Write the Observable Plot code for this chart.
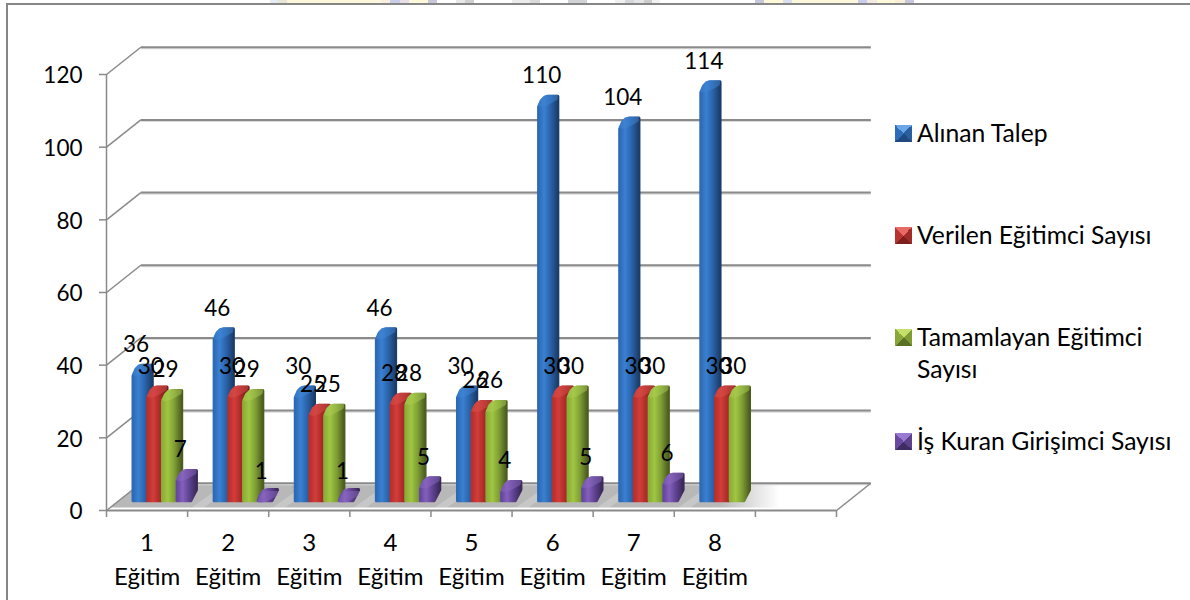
<!DOCTYPE html>
<html>
<head>
<meta charset="utf-8">
<script src="https://cdn.jsdelivr.net/npm/d3@7"></script>
<script src="https://cdn.jsdelivr.net/npm/@observablehq/plot@0.6"></script>
<style>
html,body{margin:0;padding:0;background:#fff;}
#page{position:relative;width:1190px;height:600px;overflow:hidden;background:#fff;color:#000;font-family:Lato,"Open Sans",sans-serif;}
#frame{position:absolute;left:6px;top:3px;width:1190px;height:610px;border-left:2px solid #868686;border-top:2px solid #868686;box-sizing:border-box;}
#strip{position:absolute;left:0;top:0;width:1190px;height:3px;}
#chart{position:absolute;left:0;top:0;}
.lg{position:absolute;left:895px;display:flex;align-items:flex-start;font-size:24.7px;line-height:32px;width:295px;}
.sw{width:17px;height:17px;margin:8px 5px 0 0;flex:none;}
</style>
</head>
<body>
<div id="page"><div id="strip"></div><div id="frame"></div><div id="chart"></div></div>
<script>
const categories = ["1\nEğitim","2\nEğitim","3\nEğitim","4\nEğitim","5\nEğitim","6\nEğitim","7\nEğitim","8\nEğitim"];
const seriesNames = ["Alınan Talep","Verilen Eğitimci Sayısı","Tamamlayan Eğitimci Sayısı","İş Kuran Girişimci Sayısı"];
const alinanTalep = [36,46,30,46,30,110,104,114];
const verilenEgitimci = [30,30,25,28,26,30,30,30];
const tamamlayanEgitimci = [29,29,25,28,26,30,30,30];
const isKuranGirisimci = [7,1,1,5,4,5,6,null];
const yTicks = [0,20,40,60,80,100,120];
const xSlots = 9;
const gradients = [
  ["#2d6ab5","#3a80d2","#2a63aa","#1b3d69"],
  ["#b92f2c","#d23d3a","#aa2b28","#6c1b1a"],
  ["#8cae38","#a0c642","#7f9e34","#4b5d1f"],
  ["#6546a0","#8460bc","#5f4292","#3a2959"]
];
const capColors = ["#3f86d6","#d9504c","#aacb52","#8a68c0"];
const swatches = [
  ["#6aa6e8","#2a5f9e","#1f4a80","#2f6cb8"],
  ["#e86a66","#a02c2a","#7c1f1d","#b93330"],
  ["#c4e06a","#7f9c34","#5a7024","#8aa83a"],
  ["#9a7ad0","#5c418c","#3f2c60","#6a4aa0"]
];
const labelOffsetPx = -35;
// oblique projection in data units
const depthX = 0.423, depthY = 7.5;        // back wall offset
const barStart = 0.31, barStep = 0.1815, barW = 0.185, barDX = 0.0864;
const barBase = 2.3, barLift = 1.4, barCap = 3;
const insetX = 0.017, insetY = 0.4;        // stroke rounds the corners back out

const allSeries = [alinanTalep, verilenEgitimci, tamamlayanEgitimci, isKuranGirisimci];
const bars = [];
allSeries.forEach((vals,s)=>vals.forEach((v,i)=>{ if(v!=null) bars.push({s,i,v,x0:i+barStart+s*barStep}); }));

function silhouette(b){
  const base=barBase+insetY, t=Math.max(b.v+barLift-insetY,base+.05), xl=b.x0+insetX, w=barW-insetX, d=barDX-insetX, c=barCap;
  return [
    [xl,base],[xl,t],
    [xl+d*.5,t+c*.62],[xl+d*1.05,t+c*.92],[xl+d*1.6,t+c],
    [xl+w+d,t+c],
    [xl+w+d,base+c],[xl+w,base]
  ].map(([x,y])=>({x,y,key:b.s+"-"+b.i,s:b.s}));
}
function cap(b){
  const t=b.v+barLift, xl=b.x0, w=barW, d=barDX, c=barCap;
  return [
    [xl,t],[xl+d*.5,t+c*.62],[xl+d*1.05,t+c*.92],[xl+d*1.6,t+c],
    [xl+w+d-.012,t+c],[xl+w+d*.75,t+c*.55],[xl+w*.6,t-c*.02],[xl+w*.25,t-c*.12]
  ].map(([x,y])=>({x,y,key:b.s+"-"+b.i,s:b.s}));
}
const floorPts = [{x:0.04,y:.8},{x:xSlots,y:.8},{x:xSlots+depthX,y:depthY},{x:depthX,y:depthY}];
const wallTicks = yTicks.map(v=>({v}));
const streaks = d3.range(1,8).flatMap(i=>[
  {k:i,x:i+.05,y:.8},{k:i,x:i+.2,y:.8},{k:i,x:i+.2+depthX*.9,y:depthY-.7},{k:i,x:i+.05+depthX*.9,y:depthY-.7}
]);

const gradDefs = () => {
  const defs = d3.create("svg:defs");
  gradients.forEach((g,s)=>{
    const lg = defs.append("linearGradient").attr("id","bar"+s);
    [0,.28,.62,1].forEach((o,k)=>lg.append("stop").attr("offset",o).attr("stop-color",g[k]));
  });
  const fl = defs.append("linearGradient").attr("id","floor");
  [[0,"#b8b8b8"],[.8,"#b8b8b8"],[.88,"#ffffff"]].forEach(([o,c])=>fl.append("stop").attr("offset",o).attr("stop-color",c));
  return defs.node();
};

const gridColor = "#8a8a8a";
const barMarks = [];
[0,1,2,3].forEach(s=>{
  const sb = bars.filter(b=>b.s===s);
  barMarks.push(Plot.line(sb.flatMap(silhouette),{x:"x",y:"y",z:"key",curve:"linear-closed",fill:`url(#bar${s})`,stroke:`url(#bar${s})`,strokeWidth:3,strokeLinejoin:"round"}));
  barMarks.push(Plot.line(sb.flatMap(cap),{x:"x",y:"y",z:"key",curve:"linear-closed",fill:capColors[s],fillOpacity:.5,stroke:"none"}));
});

const plot = Plot.plot({
  width:1190,height:600,
  marginLeft:106,marginRight:354,marginTop:74,marginBottom:90,
  style:{fontFamily:"Lato,'Open Sans',sans-serif",background:"transparent",color:"#000",overflow:"visible"},
  x:{domain:[0,xSlots],axis:null},
  y:{domain:[0,120],axis:null},
  marks:[
    gradDefs,
    // floor
    Plot.line(floorPts,{x:"x",y:"y",curve:"linear-closed",fill:"url(#floor)",stroke:"none"}),
    Plot.line(streaks,{x:"x",y:"y",z:"k",curve:"linear-closed",fill:"#fff",fillOpacity:.22,stroke:"none"}),
    // back wall gridlines + left side diagonals
    Plot.link(wallTicks,{x1:()=>depthX,x2:()=>xSlots+depthX,y1:d=>d.v+depthY-.3,y2:d=>d.v+depthY-.3,stroke:"#dcdcdc",strokeWidth:2}),
    Plot.link(wallTicks,{x1:()=>depthX,x2:()=>xSlots+depthX,y1:d=>d.v+depthY,y2:d=>d.v+depthY,stroke:gridColor,strokeWidth:2}),
    Plot.link(wallTicks,{x1:()=>0,x2:()=>depthX,y1:d=>d.v,y2:d=>d.v+depthY,stroke:gridColor,strokeWidth:1.5}),
    Plot.link([{v:0}],{x1:()=>xSlots,x2:()=>xSlots+depthX,y1:()=>0,y2:()=>depthY,stroke:gridColor,strokeWidth:1.5}),
    // axes
    Plot.ruleX([0],{y1:0,y2:120,stroke:gridColor,strokeWidth:1.5}),
    Plot.ruleY([0],{x1:0,x2:xSlots,stroke:gridColor,strokeWidth:2}),
    Plot.axisY({ticks:yTicks,tickSize:7,tickFormat:()=>"",label:null,stroke:gridColor,strokeWidth:1.5}),
    Plot.axisY({ticks:yTicks,tickSize:0,tickPadding:24,dy:1.5,label:null,fontSize:22.5,fill:"#000",stroke:"none"}),
    Plot.axisX({ticks:d3.range(xSlots+1),tickSize:7,tickFormat:()=>"",label:null,stroke:gridColor,strokeWidth:1.5}),
    Plot.axisX({ticks:categories.map((c,i)=>i+.5),tickSize:0,tickPadding:16,tickFormat:x=>categories[x-.5],label:null,fontSize:24,lineHeight:1.42,fill:"#000",stroke:"none"}),
    ...barMarks,
    // data labels
    Plot.text(bars,{x:d=>d.x0+.055,y:"v",text:d=>String(d.v),dy:labelOffsetPx,fontSize:22.5,fill:"#000"})
  ]
});
document.getElementById("chart").append(plot);

// legend
const legendY = [117,219,321,425];
seriesNames.forEach((n,s)=>{
  const el=document.createElement("div");
  el.className="lg"; el.style.top=legendY[s]+"px";
  const sw=document.createElement("span"); sw.className="sw";
  const c=swatches[s];
  sw.style.background=`conic-gradient(from -45deg, ${c[0]} 0 90deg, ${c[1]} 90deg 180deg, ${c[2]} 180deg 270deg, ${c[3]} 270deg 360deg)`;
  const tx=document.createElement("span"); tx.textContent=n;
  tx.style.maxWidth="268px";
  el.append(sw,tx);
  document.getElementById("page").append(el);
});

// faint logo remnant above the frame
const stripSegs=[[270,278,"#e4ecf4"],[278,287,"#e8e6d8"],[287,381,"#fdf8dc"],[381,390,"#fbeede"],[390,400,"#c9cde8"],[400,409,"#e6dfe8"],[409,428,"#fef9d8"],[428,437,"#c8c8dc"],[456,465,"#e8e8e8"],[465,474,"#d0d0d0"],[512,530,"#ececec"],[530,540,"#d8dadc"],[568,587,"#d0d4d6"],[615,625,"#f0f2f2"],[625,634,"#d4d8da"],[634,644,"#e4e6e6"],[644,652,"#cccccc"],[652,660,"#f2f2f2"],[755,764,"#c8c8dc"],[764,783,"#fef9d8"],[783,792,"#d8dfee"],[792,858,"#fdf8dc"],[858,867,"#c9cde8"],[867,877,"#f2ebe4"],[877,895,"#fef9d8"],[895,905,"#fbeed8"],[905,914,"#c8c8dc"]];
document.getElementById("strip").style.background="linear-gradient(90deg,"+stripSegs.flatMap(([a,b,c])=>[`#fff ${a}px`,`${c} ${a}px`,`${c} ${b}px`,`#fff ${b}px`]).join(",")+")";
</script>
</body>
</html>
